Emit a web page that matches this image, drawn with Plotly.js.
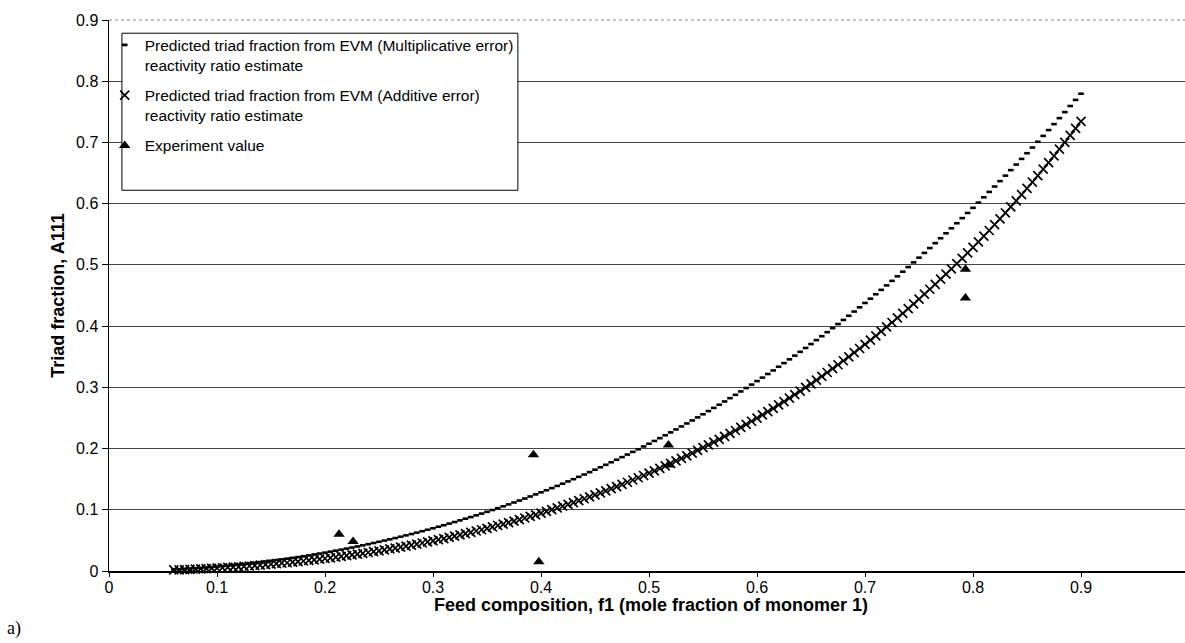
<!DOCTYPE html>
<html>
<head>
<meta charset="utf-8">
<script src="https://cdn.plot.ly/plotly-3.0.1.min.js"></script>
<style>html,body{margin:0;padding:0;background:#fff;}#chart{width:1185px;height:643px;}</style>
</head>
<body>
<div id="chart"></div>
<script>
// Feed composition f1 (shared x for both predicted curves)
const feedComposition = [
0.060,0.065,0.070,0.075,0.080,0.085,0.090,0.095,0.100,0.105,
0.110,0.115,0.120,0.125,0.130,0.135,0.140,0.145,0.150,0.155,
0.160,0.165,0.170,0.175,0.180,0.185,0.190,0.195,0.200,0.205,
0.210,0.215,0.220,0.225,0.230,0.235,0.240,0.245,0.250,0.255,
0.260,0.265,0.270,0.275,0.280,0.285,0.290,0.295,0.300,0.305,
0.310,0.315,0.320,0.325,0.330,0.335,0.340,0.345,0.350,0.355,
0.360,0.365,0.370,0.375,0.380,0.385,0.390,0.395,0.400,0.405,
0.410,0.415,0.420,0.425,0.430,0.435,0.440,0.445,0.450,0.455,
0.460,0.465,0.470,0.475,0.480,0.485,0.490,0.495,0.500,0.505,
0.510,0.515,0.520,0.525,0.530,0.535,0.540,0.545,0.550,0.555,
0.560,0.565,0.570,0.575,0.580,0.585,0.590,0.595,0.600,0.605,
0.610,0.615,0.620,0.625,0.630,0.635,0.640,0.645,0.650,0.655,
0.660,0.665,0.670,0.675,0.680,0.685,0.690,0.695,0.700,0.705,
0.710,0.715,0.720,0.725,0.730,0.735,0.740,0.745,0.750,0.755,
0.760,0.765,0.770,0.775,0.780,0.785,0.790,0.795,0.800,0.805,
0.810,0.815,0.820,0.825,0.830,0.835,0.840,0.845,0.850,0.855,
0.860,0.865,0.870,0.875,0.880,0.885,0.890,0.895,0.900];

// Predicted A111, EVM multiplicative-error estimate
const triadMultiplicative = [
0.0026,0.0030,0.0035,0.0041,0.0046,0.0052,0.0059,0.0065,0.0073,0.0080,
0.0088,0.0096,0.0105,0.0114,0.0124,0.0134,0.0144,0.0155,0.0166,0.0178,
0.0190,0.0202,0.0215,0.0228,0.0241,0.0255,0.0270,0.0285,0.0300,0.0316,
0.0332,0.0349,0.0366,0.0383,0.0401,0.0419,0.0438,0.0457,0.0477,0.0497,
0.0517,0.0538,0.0560,0.0582,0.0604,0.0627,0.0650,0.0674,0.0698,0.0723,
0.0748,0.0774,0.0800,0.0827,0.0854,0.0881,0.0909,0.0938,0.0967,0.0996,
0.1026,0.1057,0.1088,0.1119,0.1151,0.1184,0.1217,0.1251,0.1285,0.1319,
0.1354,0.1390,0.1426,0.1463,0.1500,0.1538,0.1576,0.1615,0.1655,0.1694,
0.1735,0.1776,0.1818,0.1860,0.1902,0.1946,0.1989,0.2034,0.2079,0.2124,
0.2170,0.2217,0.2264,0.2312,0.2361,0.2410,0.2459,0.2509,0.2560,0.2612,
0.2664,0.2716,0.2769,0.2823,0.2878,0.2933,0.2989,0.3045,0.3102,0.3159,
0.3218,0.3276,0.3336,0.3396,0.3457,0.3518,0.3580,0.3643,0.3707,0.3771,
0.3835,0.3901,0.3967,0.4034,0.4101,0.4169,0.4238,0.4307,0.4378,0.4448,
0.4520,0.4592,0.4665,0.4739,0.4813,0.4889,0.4964,0.5041,0.5118,0.5196,
0.5275,0.5355,0.5435,0.5516,0.5598,0.5680,0.5764,0.5848,0.5932,0.6018,
0.6104,0.6192,0.6280,0.6368,0.6458,0.6548,0.6639,0.6731,0.6824,0.6917,
0.7011,0.7107,0.7202,0.7299,0.7397,0.7495,0.7595,0.7695,0.7796];

// Predicted A111, EVM additive-error estimate
const triadAdditive = [
0.0017,0.0020,0.0023,0.0026,0.0030,0.0034,0.0038,0.0043,0.0048,0.0053,
0.0058,0.0063,0.0069,0.0076,0.0082,0.0089,0.0096,0.0103,0.0111,0.0119,
0.0127,0.0135,0.0144,0.0153,0.0163,0.0173,0.0183,0.0193,0.0204,0.0215,
0.0226,0.0238,0.0250,0.0263,0.0275,0.0289,0.0302,0.0316,0.0330,0.0345,
0.0360,0.0375,0.0391,0.0407,0.0423,0.0440,0.0457,0.0475,0.0493,0.0512,
0.0530,0.0550,0.0569,0.0590,0.0610,0.0631,0.0653,0.0674,0.0697,0.0720,
0.0743,0.0766,0.0791,0.0815,0.0840,0.0866,0.0892,0.0918,0.0945,0.0973,
0.1001,0.1030,0.1059,0.1088,0.1118,0.1149,0.1180,0.1212,0.1244,0.1277,
0.1310,0.1344,0.1379,0.1414,0.1450,0.1486,0.1523,0.1560,0.1598,0.1637,
0.1676,0.1716,0.1757,0.1798,0.1840,0.1882,0.1925,0.1969,0.2014,0.2059,
0.2105,0.2151,0.2199,0.2247,0.2295,0.2345,0.2395,0.2446,0.2498,0.2550,
0.2603,0.2657,0.2712,0.2768,0.2824,0.2881,0.2939,0.2998,0.3057,0.3118,
0.3179,0.3242,0.3305,0.3369,0.3434,0.3499,0.3566,0.3634,0.3702,0.3772,
0.3842,0.3914,0.3986,0.4059,0.4134,0.4209,0.4286,0.4363,0.4441,0.4521,
0.4602,0.4683,0.4766,0.4850,0.4935,0.5021,0.5108,0.5197,0.5286,0.5377,
0.5469,0.5562,0.5657,0.5752,0.5849,0.5947,0.6047,0.6147,0.6249,0.6353,
0.6457,0.6563,0.6671,0.6780,0.6890,0.7001,0.7114,0.7229,0.7345];

// Experimental values
const expFeed  = [0.213, 0.226, 0.393, 0.398, 0.518, 0.518, 0.793, 0.793];
const expTriad = [0.060, 0.048, 0.190, 0.015, 0.206, 0.173, 0.493, 0.446];

// Axis ticks
const xTicks = [0, 0.1, 0.2, 0.3, 0.4, 0.5, 0.6, 0.7, 0.8, 0.9];
const xTickText = ['0', '0.1', '0.2', '0.3', '0.4', '0.5', '0.6', '0.7', '0.8', '0.9'];
const yTicks = [0, 0.1, 0.2, 0.3, 0.4, 0.5, 0.6, 0.7, 0.8, 0.9];
const yTickText = ['0', '0.1', '0.2', '0.3', '0.4', '0.5', '0.6', '0.7', '0.8', '0.9'];

const FONT = 'Liberation Sans, Arial, sans-serif';

const traces = [
  {
    x: feedComposition, y: triadMultiplicative, type: 'scatter', mode: 'markers',
    name: 'Predicted triad fraction from EVM (Multiplicative error)<br>reactivity ratio estimate',
    legendgroup: 'mult',
    marker: {symbol: 'line-ew', size: 4, color: '#000', line: {color: '#000', width: 2.6}},
    cliponaxis: false
  },
  {
    x: feedComposition, y: triadAdditive, type: 'scatter', mode: 'markers',
    name: 'Predicted triad fraction from EVM (Additive error)<br>reactivity ratio estimate',
    legendgroup: 'add',
    marker: {symbol: 'x-thin', size: 9, color: '#000', line: {color: '#000', width: 1.7}},
    cliponaxis: false
  },
  {
    x: expFeed, y: expTriad, type: 'scatter', mode: 'markers',
    name: 'Experiment value',
    legendgroup: 'exp',
    marker: {symbol: 'triangle-up', size: 10, color: '#000'},
    cliponaxis: false
  }
];

const layout = {
  width: 1185, height: 643,
  margin: {l: 109, r: 0, t: 20, b: 72, pad: 0},
  paper_bgcolor: '#fff', plot_bgcolor: '#fff',
  font: {family: FONT, size: 15, color: '#000'},
  showlegend: true,
  legend: {
    x: -0.004, y: 0.985, xanchor: 'left', yanchor: 'top',
    bgcolor: 'rgba(0,0,0,0)', borderwidth: 0,
    font: {family: FONT, size: 15.5, color: '#000'},
    valign: 'top', tracegroupgap: 7
  },
  xaxis: {
    range: [0, 0.9963], tickmode: 'array', tickvals: xTicks, ticktext: xTickText,
    showgrid: false, zeroline: false,
    showline: true, linecolor: '#000', linewidth: 2,
    ticks: 'outside', ticklen: 4, tickwidth: 1, tickcolor: '#000',
    ticklabelstandoff: -3,
    tickfont: {family: FONT, size: 16, color: '#000'},
    fixedrange: true
  },
  yaxis: {
    range: [0, 0.9], tickmode: 'array', tickvals: yTicks, ticktext: yTickText,
    showgrid: true, gridcolor: '#444', gridwidth: 1,
    zeroline: false,
    showline: true, linecolor: '#000', linewidth: 1.5,
    ticks: 'outside', ticklen: 6, tickwidth: 1, tickcolor: '#000',
    tickfont: {family: FONT, size: 16, color: '#000'},
    title: {text: '<b>Triad fraction, A111</b>',
            font: {family: FONT, size: 18, color: '#000'}, standoff: 6},
    fixedrange: true
  },
  shapes: [
    {type: 'line', xref: 'paper', yref: 'paper', x0: 0, x1: 1, y0: 1, y1: 1,
     line: {color: '#888', width: 1, dash: 'dot'}, layer: 'below'},
    {type: 'rect', xref: 'paper', yref: 'paper', x0: 0.012, x1: 0.380, y0: 0.691, y1: 0.976,
     fillcolor: '#fff', line: {color: '#000', width: 1}, layer: 'above'}
  ],
  annotations: [
    {text: '<b>Feed composition, f1 (mole fraction of monomer 1)</b>', xref: 'paper', yref: 'paper',
     x: 0.5037, y: -0.061, xanchor: 'center', yanchor: 'middle', showarrow: false,
     font: {family: FONT, size: 18, color: '#000'}},
    {text: 'a)', xref: 'paper', yref: 'paper', x: -0.097, y: -0.105, xanchor: 'left', yanchor: 'middle',
     showarrow: false, font: {family: 'Liberation Serif, Times New Roman, serif', size: 18, color: '#000'}}
  ]
};

Plotly.newPlot('chart', traces, layout, {displayModeBar: false, staticPlot: true});
</script>
</body>
</html>
